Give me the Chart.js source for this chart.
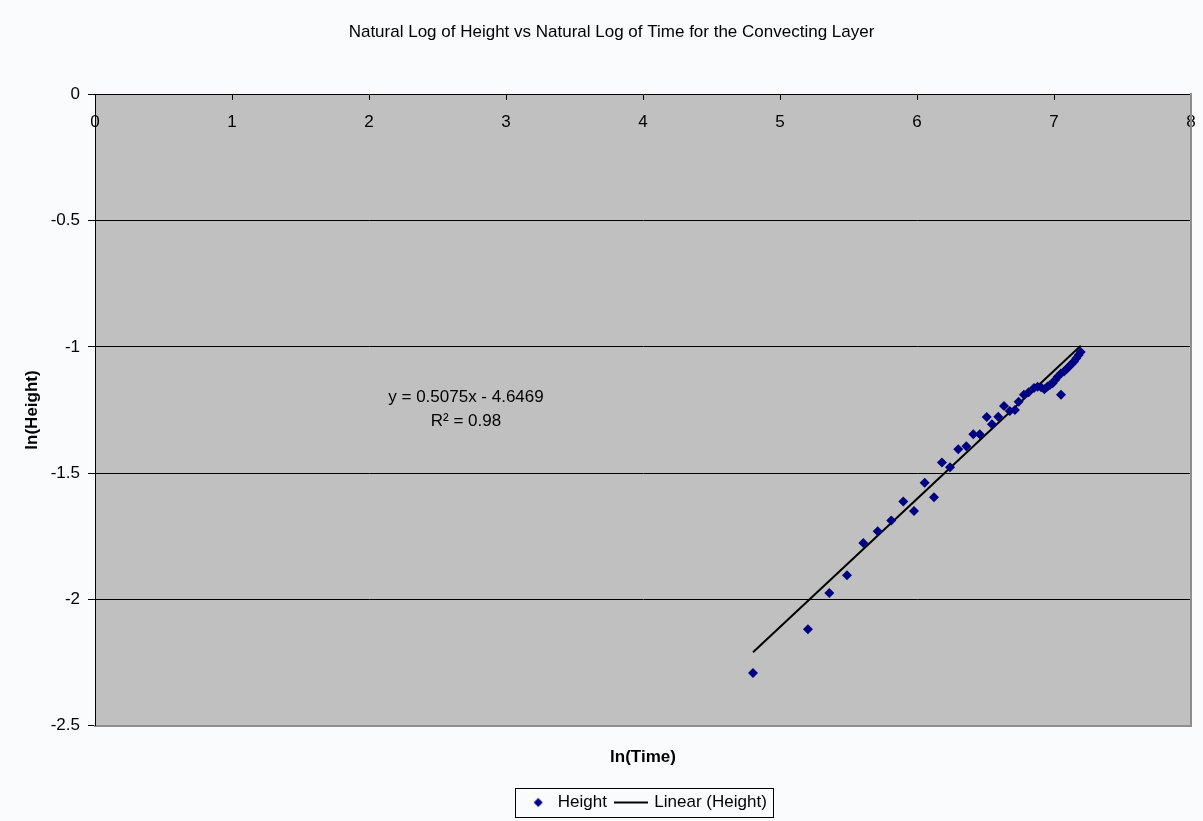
<!DOCTYPE html>
<html>
<head>
<meta charset="utf-8">
<title>Natural Log of Height vs Natural Log of Time</title>
<script src="https://cdn.jsdelivr.net/npm/chart.js@4.4.1/dist/chart.umd.min.js"></script>
<style>
  html, body { margin: 0; padding: 0; background: #fafbfd; }
  #wrap { width: 1203px; height: 821px; position: relative; }
</style>
</head>
<body>
<div id="wrap"><canvas id="chart"></canvas></div>
<script>
// ln(time) and ln(height)
const lnTime = [4.803, 5.204, 5.360, 5.489, 5.608, 5.713, 5.812, 5.900, 5.978, 6.056,
  6.124, 6.182, 6.241, 6.301, 6.360, 6.411, 6.458, 6.509, 6.547, 6.593,
  6.635, 6.677, 6.715, 6.742, 6.780, 6.815, 6.854, 6.880, 6.905, 6.930,
  6.953, 6.972, 6.990, 7.010, 7.027, 7.051, 7.050, 7.073, 7.092, 7.110,
  7.128, 7.146, 7.163, 7.180, 7.195];
const lnHeight = [-2.292, -2.118, -1.975, -1.905, -1.777, -1.730, -1.688, -1.612, -1.650, -1.538,
  -1.596, -1.458, -1.477, -1.405, -1.394, -1.346, -1.346, -1.278, -1.306, -1.277,
  -1.234, -1.254, -1.250, -1.217, -1.190, -1.180, -1.163, -1.158, -1.160, -1.168,
  -1.157, -1.150, -1.144, -1.130, -1.118, -1.190, -1.105, -1.098, -1.088, -1.078,
  -1.068, -1.058, -1.045, -1.032, -1.020];

// trendline as printed on the chart
const slope = 0.5075;
const intercept = -4.6469;
const rSquared = "0.98";
const labelAt = { x: 2.708, y: -1.2 };

const xMin = 0, xMax = 8;
const yMin = -2.5, yMax = 0;

const FONT = "'Liberation Sans', Arial, sans-serif";
const NAVY = "#000080";

const points = lnTime.map((t, i) => ({ x: t, y: lnHeight[i] }));
const tMin = Math.min(...lnTime), tMax = Math.max(...lnTime);
const trend = [tMin, tMax].map(t => ({ x: t, y: slope * t + intercept }));

// legend icons
const ICON_W = 30;
const diamondIcon = document.createElement("canvas");
diamondIcon.width = ICON_W;
diamondIcon.height = 12;
{
  const c = diamondIcon.getContext("2d");
  c.fillStyle = NAVY;
  c.beginPath();
  c.moveTo(19, 1.5); c.lineTo(23.5, 6); c.lineTo(19, 10.5); c.lineTo(14.5, 6);
  c.closePath();
  c.fill();
}
const lineIcon = document.createElement("canvas");
lineIcon.width = ICON_W + 4;
lineIcon.height = 4;
{
  const c = lineIcon.getContext("2d");
  c.fillStyle = "#000";
  c.fillRect(0, 1, ICON_W + 4, 2);
}

const plotBackground = {
  id: "plotBackground",
  beforeDraw(chart) {
    const { ctx, chartArea: a } = chart;
    ctx.save();
    ctx.fillStyle = "#c0c0c0";
    ctx.fillRect(a.left, a.top, a.right - a.left, a.bottom - a.top);
    ctx.restore();
  }
};

const equationLabel = {
  id: "equationLabel",
  afterDatasetsDraw(chart) {
    const { ctx, scales } = chart;
    const px = scales.x.getPixelForValue(labelAt.x);
    const py = scales.y.getPixelForValue(labelAt.y);
    ctx.save();
    ctx.font = "17px " + FONT;
    ctx.fillStyle = "#000";
    ctx.textAlign = "center";
    ctx.textBaseline = "middle";
    ctx.fillText(`y = ${slope}x - ${Math.abs(intercept)}`, px, py);
    ctx.fillText(`R\u00B2 = ${rSquared}`, px, py + 24);
    ctx.restore();
  }
};

const legendBox = {
  id: "legendBox",
  afterDraw(chart) {
    const boxes = chart.legend.legendHitBoxes;
    if (!boxes || !boxes.length) return;
    const left = Math.min(...boxes.map(b => b.left)) - 4;
    const right = Math.max(...boxes.map(b => b.left + b.width)) + 6;
    const top = Math.min(...boxes.map(b => b.top)) - 6;
    const bottom = Math.max(...boxes.map(b => b.top + b.height)) + 6;
    const ctx = chart.ctx;
    ctx.save();
    ctx.strokeStyle = "#000";
    ctx.lineWidth = 1;
    ctx.strokeRect(Math.round(left) + 0.5, Math.round(top) + 0.5, Math.round(right - left), Math.round(bottom - top));
    ctx.restore();
  }
};

new Chart("chart", {
  type: "scatter",
  data: {
    datasets: [{
      label: "Height",
      data: points,
      pointStyle: "rectRot",
      pointRadius: 5,
      pointHoverRadius: 5,
      backgroundColor: NAVY,
      borderColor: NAVY,
      borderWidth: 0
    }, {
      label: "Linear (Height)",
      type: "line",
      data: trend,
      borderColor: "#000",
      backgroundColor: "#000",
      borderWidth: 2,
      pointRadius: 0,
      fill: false
    }]
  },
  options: {
    responsive: true,
    maintainAspectRatio: false,
    animation: false,
    layout: { padding: { left: 32, right: 12, top: 0, bottom: 0 } },
    plugins: {
      title: {
        display: true,
        text: "Natural Log of Height vs Natural Log of Time for the Convecting Layer",
        color: "#000",
        font: { family: FONT, size: 17, weight: "normal" },
        padding: { top: 22, bottom: 52 }
      },
      legend: {
        position: "bottom",
        fullSize: false,
        labels: {
          usePointStyle: true,
          pointStyleWidth: ICON_W,
          color: "#000",
          font: { family: FONT, size: 17 },
          padding: 9,
          generateLabels(chart) {
            const items = Chart.defaults.plugins.legend.labels.generateLabels(chart);
            items.forEach(it => { it.pointStyle = it.datasetIndex === 0 ? diamondIcon : lineIcon; });
            return items;
          }
        }
      },
      tooltip: { enabled: false }
    },
    scales: {
      x: {
        type: "linear",
        position: { y: 0 },
        min: xMin,
        max: xMax,
        ticks: { stepSize: 1, color: "#000", font: { family: FONT, size: 17 }, padding: 13 },
        grid: { drawOnChartArea: false, drawTicks: true, tickLength: 5, tickColor: "#000" },
        border: { color: "#000", width: 1 },
        // labels sit inside the plot, so they need no side room
        afterFit(scale) { scale.paddingLeft = 0; scale.paddingRight = 0; }
      },
      x2: {
        type: "linear",
        position: "bottom",
        min: xMin,
        max: xMax,
        ticks: { display: false },
        grid: { display: false, drawTicks: false },
        border: { color: "#8e8e8e", width: 2 },
        title: {
          display: true,
          text: "ln(Time)",
          color: "#000",
          font: { family: FONT, size: 17, weight: "bold" },
          padding: { top: 22, bottom: 17 }
        }
      },
      y: {
        type: "linear",
        position: "left",
        min: yMin,
        max: yMax,
        ticks: {
          stepSize: 0.5,
          color: "#000",
          font: { family: FONT, size: 17 },
          padding: 8,
          callback: v => String(v)
        },
        grid: {
          color: ctx => (ctx.tick && (ctx.tick.value === yMin || ctx.tick.value === yMax)) ? "rgba(0,0,0,0)" : "#000",
          tickColor: "#000",
          tickLength: 7
        },
        border: { color: "#000", width: 1 },
        title: {
          display: true,
          text: "ln(Height)",
          color: "#000",
          font: { family: FONT, size: 17, weight: "bold" },
          padding: { top: -10, bottom: 0 }
        },
        afterFit(scale) { scale.width = 63; }
      },
      y2: {
        type: "linear",
        position: "right",
        min: yMin,
        max: yMax,
        ticks: { display: false },
        grid: { display: false, drawTicks: false },
        border: { color: "#8e8e8e", width: 2 }
      }
    }
  },
  plugins: [plotBackground, equationLabel, legendBox]
});
</script>
</body>
</html>
